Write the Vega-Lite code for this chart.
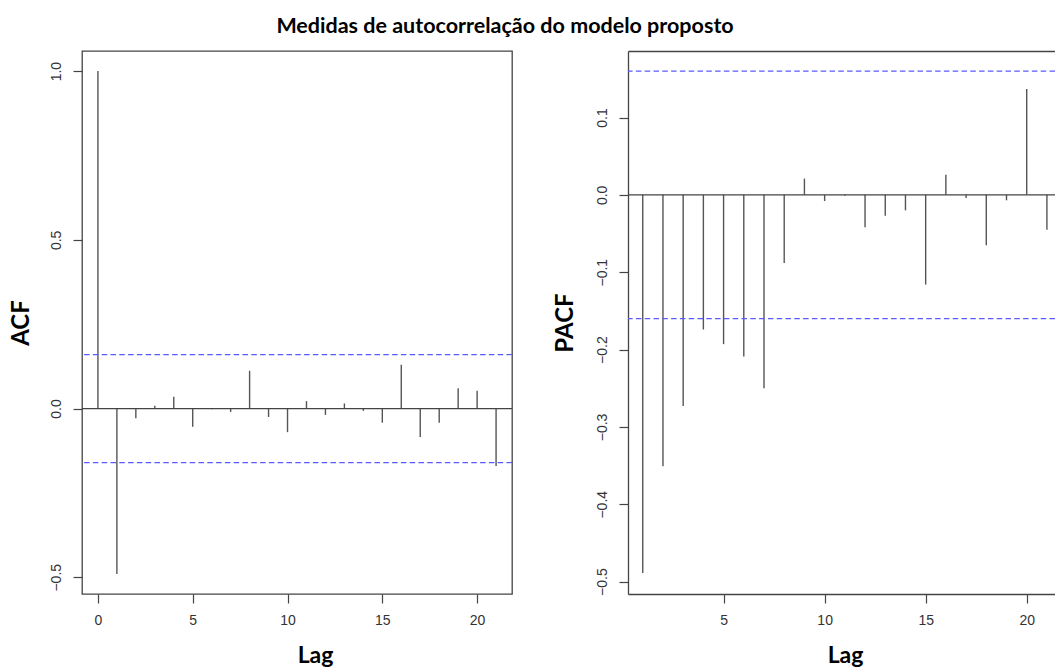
{
  "$schema": "https://vega.github.io/schema/vega-lite/v6.json",
  "background": "white",
  "padding": {"left": 8, "top": 15, "right": 0, "bottom": 0},
  "title": {"text": "Medidas de autocorrelação do modelo proposto", "font": "Lato", "fontSize": 21.5, "fontWeight": "bold", "color": "black", "anchor": "middle", "frame": "group", "dx": 423, "offset": 13},
  "datasets": {
    "acf": [
      {"lag": 0, "acf": 1.0}, {"lag": 1, "acf": -0.49}, {"lag": 2, "acf": -0.029}, {"lag": 3, "acf": 0.008},
      {"lag": 4, "acf": 0.035}, {"lag": 5, "acf": -0.054}, {"lag": 6, "acf": -0.002}, {"lag": 7, "acf": -0.01},
      {"lag": 8, "acf": 0.112}, {"lag": 9, "acf": -0.025}, {"lag": 10, "acf": -0.07}, {"lag": 11, "acf": 0.022},
      {"lag": 12, "acf": -0.019}, {"lag": 13, "acf": 0.015}, {"lag": 14, "acf": -0.007}, {"lag": 15, "acf": -0.042},
      {"lag": 16, "acf": 0.13}, {"lag": 17, "acf": -0.084}, {"lag": 18, "acf": -0.042}, {"lag": 19, "acf": 0.06},
      {"lag": 20, "acf": 0.053}, {"lag": 21, "acf": -0.17}
    ],
    "pacf": [
      {"lag": 1, "pacf": -0.489}, {"lag": 2, "pacf": -0.351}, {"lag": 3, "pacf": -0.273}, {"lag": 4, "pacf": -0.174},
      {"lag": 5, "pacf": -0.193}, {"lag": 6, "pacf": -0.209}, {"lag": 7, "pacf": -0.25}, {"lag": 8, "pacf": -0.088},
      {"lag": 9, "pacf": 0.021}, {"lag": 10, "pacf": -0.008}, {"lag": 11, "pacf": -0.001}, {"lag": 12, "pacf": -0.042},
      {"lag": 13, "pacf": -0.027}, {"lag": 14, "pacf": -0.02}, {"lag": 15, "pacf": -0.116}, {"lag": 16, "pacf": 0.026},
      {"lag": 17, "pacf": -0.004}, {"lag": 18, "pacf": -0.065}, {"lag": 19, "pacf": -0.007}, {"lag": 20, "pacf": 0.137},
      {"lag": 21, "pacf": -0.045}
    ],
    "ci": [{"bound": 0.16}, {"bound": -0.16}],
    "zero": [{"base": 0}]
  },
  "spacing": 116,
  "bounds": "flush",
  "hconcat": [
    {
      "width": 430,
      "height": 543,
      "view": {"stroke": "#444", "strokeWidth": 1.3},
      "layer": [
        {
          "data": {"name": "acf"},
          "mark": {"type": "rule", "color": "#555", "strokeWidth": 1.4},
          "encoding": {
            "x": {"field": "lag", "type": "quantitative", "scale": {"domain": [-0.84, 21.84], "nice": false, "zero": false},
                  "axis": {"title": "Lag", "values": [0, 5, 10, 15, 20], "domain": false, "labelPadding": 10, "titlePadding": 17, "titleFontSize": 23, "titleX": 233}},
            "y": {"field": "acf", "type": "quantitative", "scale": {"domain": [-0.5496, 1.0596], "nice": false, "zero": false},
                  "axis": {"title": "ACF", "values": [-0.5, 0, 0.5, 1], "format": ".1f", "labelAngle": -90, "domain": false, "labelPadding": 10, "titlePadding": 16}},
            "y2": {"datum": 0}
          }
        },
        {
          "data": {"name": "zero"},
          "mark": {"type": "rule", "color": "#444", "strokeWidth": 1.3},
          "encoding": {"y": {"field": "base", "type": "quantitative"}}
        },
        {
          "data": {"name": "ci"},
          "mark": {"type": "rule", "color": "#5a5aff", "strokeWidth": 1.2, "strokeDash": [5.5, 3.3]},
          "encoding": {"y": {"field": "bound", "type": "quantitative"}}
        }
      ]
    },
    {
      "width": 427,
      "height": 543,
      "resolve": {"axis": {"x": "independent"}},
      "layer": [
        {
          "data": {"name": "pacf"},
          "mark": {"type": "rule", "color": "#555", "strokeWidth": 1.4},
          "encoding": {
            "x": {"field": "lag", "type": "quantitative", "scale": {"domain": [0.27, 21.4], "nice": false, "zero": false},
                  "axis": {"orient": "bottom", "title": "Lag", "values": [5, 10, 15, 20], "domain": true, "labelPadding": 10, "titlePadding": 17, "titleFontSize": 23, "titleX": 217}},
            "y": {"field": "pacf", "type": "quantitative", "scale": {"domain": [-0.516, 0.186], "nice": false, "zero": false},
                  "axis": {"title": "PACF", "values": [-0.5, -0.4, -0.3, -0.2, -0.1, 0, 0.1], "format": ".1f", "labelAngle": -90, "domain": true, "labelPadding": 10, "titlePadding": 18}},
            "y2": {"datum": 0}
          }
        },
        {
          "data": {"name": "zero"},
          "mark": {"type": "rule", "color": "#444", "strokeWidth": 1.3},
          "encoding": {"y": {"field": "base", "type": "quantitative"}}
        },
        {
          "data": {"name": "ci"},
          "mark": {"type": "rule", "color": "#5a5aff", "strokeWidth": 1.2, "strokeDash": [5.5, 3.3]},
          "encoding": {"y": {"field": "bound", "type": "quantitative"}}
        },
        {
          "data": {"name": "pacf"},
          "mark": {"type": "point", "opacity": 0},
          "encoding": {
            "x": {"field": "lag", "type": "quantitative",
                  "axis": {"orient": "top", "title": null, "labels": false, "ticks": false, "domain": true}},
            "y": {"field": "pacf", "type": "quantitative"}
          }
        }
      ]
    }
  ],
  "config": {
    "view": {"stroke": null},
    "axis": {
      "grid": false,
      "labelFont": "Liberation Sans", "labelFontSize": 14, "labelColor": "#333",
      "tickColor": "#444", "tickSize": 9, "tickWidth": 1.2,
      "domainColor": "#444", "domainWidth": 1.3,
      "titleFont": "Lato", "titleFontSize": 24, "titleFontWeight": "bold", "titleColor": "black"
    }
  }
}
